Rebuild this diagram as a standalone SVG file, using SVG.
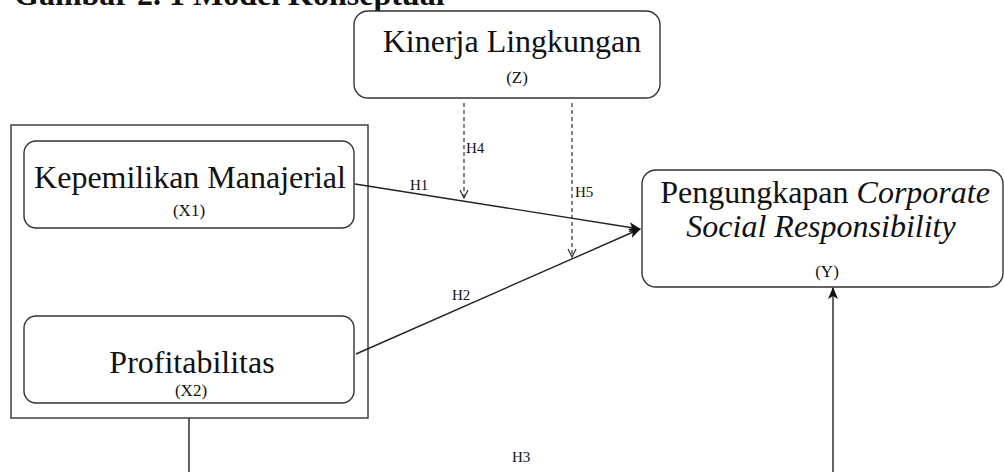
<svg xmlns="http://www.w3.org/2000/svg" width="1004" height="472" viewBox="0 0 1004 472">
<style>
.box{fill:#fff;stroke:#333;stroke-width:1.4}
.main{font-family:"Liberation Serif","Times New Roman",serif;font-size:32px;fill:#111;text-anchor:middle}
.sub{font-family:"Liberation Serif","Times New Roman",serif;font-size:17px;fill:#111;text-anchor:middle}
.lbl{font-family:"Liberation Serif","Times New Roman",serif;font-size:15px;fill:#111}
.line{stroke:#222;stroke-width:1.4;fill:none}
.dash{stroke:#333;stroke-width:1.2;fill:none;stroke-dasharray:4 3}
</style>
<defs>
<marker id="fill" viewBox="0 0 12 10" refX="11" refY="5" markerWidth="12" markerHeight="10" markerUnits="userSpaceOnUse" orient="auto">
<path d="M0,0 L12,5 L0,10 L3,5 Z" fill="#111"/>
</marker>
<marker id="open" viewBox="0 0 10 10" refX="9" refY="5" markerWidth="10" markerHeight="10" markerUnits="userSpaceOnUse" orient="auto">
<path d="M1,1 L9,5 L1,9" fill="none" stroke="#333" stroke-width="1.2"/>
</marker>
</defs>
<rect width="1004" height="472" fill="#fff"/>
<text x="14" y="5" font-family="Liberation Serif,'Times New Roman',serif" font-size="32" font-weight="bold" fill="#111">Gambar 2. 1 Model Konseptual</text>
<rect id="group-x" x="11" y="125" width="357" height="293" fill="none" stroke="#333" stroke-width="1.4"/>
<g id="node-z">
<rect class="box" x="354" y="11" width="306" height="87" rx="14"/>
<text class="main" x="512" y="52">Kinerja Lingkungan</text>
<text class="sub" x="517" y="83" font-size="19">(Z)</text>
</g>
<g id="node-x1">
<rect class="box" x="24" y="141" width="330" height="87" rx="12"/>
<text class="main" x="190" y="188">Kepemilikan Manajerial</text>
<text class="sub" x="189" y="216">(X1)</text>
</g>
<g id="node-x2">
<rect class="box" x="24" y="316" width="330" height="87" rx="12"/>
<text class="main" x="192" y="373">Profitabilitas</text>
<text class="sub" x="191" y="396">(X2)</text>
</g>
<g id="node-y">
<rect class="box" x="642" y="170" width="361" height="117" rx="14"/>
<text class="main" x="825" y="203">Pengungkapan <tspan font-style="italic">Corporate</tspan></text>
<text class="main" x="821" y="237" font-style="italic">Social Responsibility</text>
<text class="sub" x="827" y="277" font-size="19">(Y)</text>
</g>
<g id="connectors">
<line class="line" x1="355" y1="184" x2="640" y2="229" marker-end="url(#fill)"/>
<line class="line" x1="356" y1="354" x2="640" y2="229" marker-end="url(#fill)"/>
<line class="dash" x1="464" y1="103" x2="464" y2="198" marker-end="url(#open)"/>
<line class="dash" x1="572" y1="103" x2="572" y2="257" marker-end="url(#open)"/>
<line class="line" x1="189" y1="418" x2="189" y2="472"/>
<line class="line" x1="833" y1="472" x2="833" y2="288" marker-end="url(#fill)"/>
<text class="lbl" x="410" y="190">H1</text>
<text class="lbl" x="452" y="300">H2</text>
<text class="lbl" x="512" y="462">H3</text>
<text class="lbl" x="466" y="153">H4</text>
<text class="lbl" x="575" y="197">H5</text>
</g>
</svg>
